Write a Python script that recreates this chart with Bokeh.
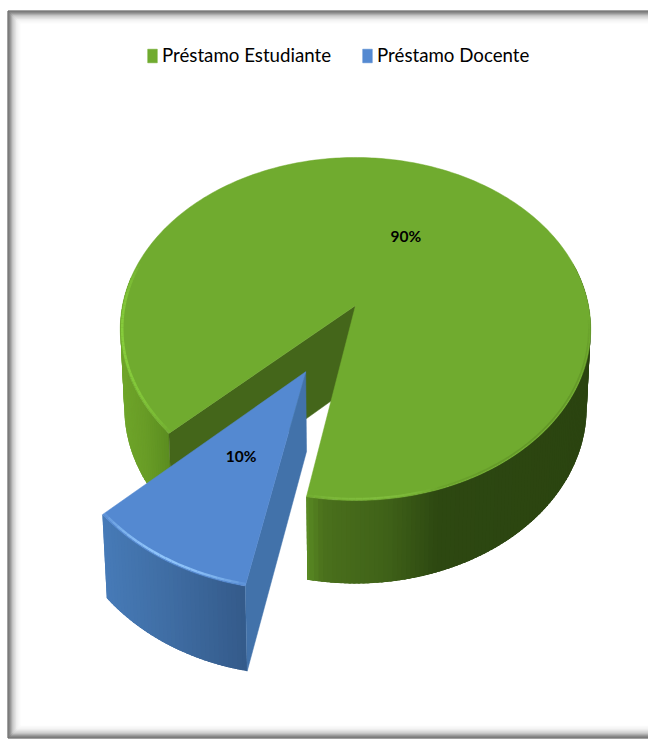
import numpy as np
from bokeh.plotting import figure
from bokeh.models import Range1d, Legend, LegendItem
from bokeh.core.properties import value
from bokeh.embed import file_html
from bokeh.resources import INLINE

categories = ["Préstamo Estudiante", "Préstamo Docente"]
shares = [90, 10]
top_colors = ["#70AB2F", "#5489D1"]

# 3D projection of the pie (page pixels)
CX, Y_TOP, Y_BOT = 355.0, 305.0, 383.0
RX_TOP, RY_TOP = 233.0, 168.3
RX_BOT, RY_BOT = 229.0, 172.6
P = 0.137
START = 46.5
EXPLODE = 0.425


def proj(u, v, bottom=False):
    w = 1 - P * np.asarray(v)
    rx, ry, y0 = (RX_BOT, RY_BOT, Y_BOT) if bottom else (RX_TOP, RY_TOP, Y_TOP)
    return CX + rx * np.asarray(u) / w, y0 + ry * np.asarray(v) / w


def rim(deg, off=(0.0, 0.0), r=1.0, bottom=False):
    t = np.radians(np.asarray(deg, dtype=float))
    return proj(off[0] - r * np.sin(t), off[1] + r * np.cos(t), bottom)


def hexmix(stops, x):
    xs = [s[0] for s in stops]
    rgb = [np.interp(x, xs, [int(s[1][i:i + 2], 16) for s in stops]) for i in (1, 3, 5)]
    return "#%02x%02x%02x" % tuple(int(round(c)) for c in rgb)


def wall(p, a0, a1, off, stops):
    # overlapping strips, painted so that each covers the seam of the one before
    xs, ys, cs = [], [], []
    for a in np.arange(a0, a1, 1.0):
        b = min(a + 2.5, a1)
        xt, yt = rim([a, b], off)
        xb, yb = rim([b, a], off, bottom=True)
        xs.append(list(xt) + list(xb))
        ys.append(list(yt) + list(yb))
        cs.append(hexmix(stops, xt[0]))
    p.patches(xs, ys, fill_color=cs, line_color=None)


def edge(p, a0, a1, off, color, peak, width):
    angs = np.arange(a0, a1, 1.5)
    xs, ys, alphas = [], [], []
    for i, a in enumerate(angs):
        x, y = rim([a, a + 1.5], off, r=0.992)
        xs.append(list(x))
        ys.append(list(y))
        alphas.append(peak * np.sin(np.pi * (i + 0.5) / len(angs)) ** 0.6)
    p.multi_line(xs, ys, line_color=color, line_alpha=alphas, line_width=width)


p = figure(width=648, height=740, output_backend="svg", toolbar_location=None,
           x_range=Range1d(0, 648), y_range=Range1d(740, 0), min_border=0,
           outline_line_color=None)
p.axis.visible = False
p.grid.visible = False

# framed picture border with inner shadow
for i in range(14):
    shade = hexmix([(0, "#444444"), (2, "#666666"), (5, "#b8b8b8"), (9, "#ececec"), (13, "#ffffff")], i)
    p.quad(left=[7.5 + i], right=[680], top=[10.5 + i], bottom=[737.5 - i],
           fill_alpha=0, line_color=shade, line_width=1)

sweep = [s * 3.6 for s in shares]
g0, g1 = START, START + sweep[0]
b0, b1 = g1, g1 + sweep[1]
gm, bm = (g0 + g1) / 2, (b0 + b1) / 2
no_off = (0.0, 0.0)
b_off = (-EXPLODE * np.sin(np.radians(bm)), EXPLODE * np.cos(np.radians(bm)))
arc_g = np.arange(g0, g1 + 0.5, 1.0)
arc_b = np.arange(b0, b1 + 0.5, 1.0)

# green pie: walls, cut, top
left_stops = [(120, "#6FA52A"), (145, "#689C26"), (168, "#5C8E20")]
wall(p, g0, 100, no_off, left_stops)
right_stops = [(307, "#5A8C24"), (325, "#4A701C"), (390, "#3F6118"), (440, "#2D4811"), (590, "#2B4410")]
wall(p, 255, g1, no_off, right_stops)
cut_x = [proj(0, 0)[0], rim([g0])[0][0], rim([g0], bottom=True)[0][0], proj(0, 0, True)[0]]
cut_y = [proj(0, 0)[1], rim([g0])[1][0], rim([g0], bottom=True)[1][0], proj(0, 0, True)[1]]
p.patch([float(v) for v in cut_x], [float(v) for v in cut_y], fill_color="#44661A", line_color="#44661A", line_width=0.5)
gx, gy = rim(arc_g)
green_top = p.patch([float(proj(0, 0)[0])] + list(gx), [float(proj(0, 0)[1])] + list(gy),
                    fill_color=top_colors[0], line_color=top_colors[0], line_width=0.5)
edge(p, g0, 105, no_off, "#86CC3C", 1.0, 2.6)
edge(p, 342, g1, no_off, "#8CCB48", 0.55, 2.0)
edge(p, 275, 345, no_off, "#3F6118", 0.25, 1.5)

# blue slice: walls, cut, top
wall(p, b0, b1, b_off, [(100, "#477BB8"), (170, "#3F6DA3"), (247, "#345A8A")])
ax, ay = proj(b_off[0], b_off[1])
abx, aby = proj(b_off[0], b_off[1], True)
ex, ey = rim([b0], b_off)
ebx, eby = rim([b0], b_off, bottom=True)
p.patch([float(ax), float(ex[0]), float(ebx[0]), float(abx)],
        [float(ay), float(ey[0]), float(eby[0]), float(aby)],
        fill_color="#4272AA", line_color="#4272AA", line_width=0.5)
bx, by = rim(arc_b, b_off)
blue_top = p.patch([float(ax)] + list(bx), [float(ay)] + list(by),
                   fill_color=top_colors[1], line_color=top_colors[1], line_width=0.5)
edge(p, b0, b1, b_off, "#8FC4FA", 1.0, 2.4)

# percentage labels
lx, ly = rim([gm], no_off, r=0.48)
p.text(x=[float(lx[0])], y=[float(ly[0])], text=[f"{shares[0]}%"], text_align="center", text_baseline="middle",
       y_offset=-2, text_font=value("Lato"), text_font_size="15.5px", text_font_style="bold", text_color="#000000")
lx, ly = rim([bm], b_off, r=0.49)
p.text(x=[float(lx[0])], y=[float(ly[0])], text=[f"{shares[1]}%"], text_align="center", text_baseline="middle",
       y_offset=-2, text_font=value("Lato"), text_font_size="15.5px", text_font_style="bold", text_color="#000000")

legend = Legend(items=[LegendItem(label=categories[0], renderers=[green_top]),
                       LegendItem(label=categories[1], renderers=[blue_top])],
                orientation="horizontal", location=(146, 674), border_line_alpha=0,
                background_fill_alpha=0, margin=0, padding=0, spacing=30,
                glyph_width=12, glyph_height=17, label_standoff=4, label_height=20,
                label_text_font="Lato", label_text_font_size="18.7px",
                label_text_color="#000000")
p.add_layout(legend)

open("out.html", "w").write(file_html(p, INLINE))
